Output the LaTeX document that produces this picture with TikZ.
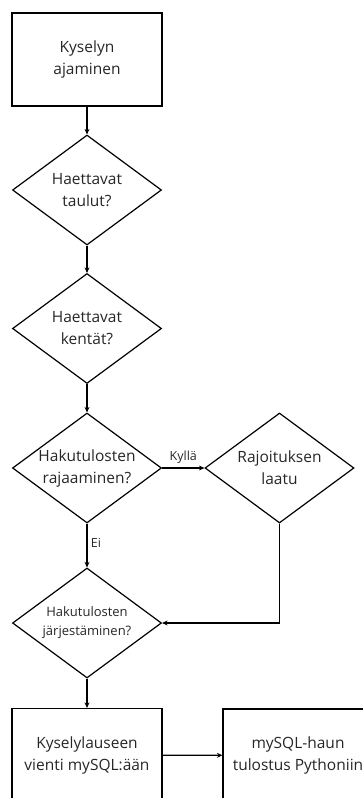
\documentclass[tikz,border=0pt]{standalone}
\usepackage{fontspec}
\setmainfont{Open Sans}
\usetikzlibrary{shapes.geometric,arrows.meta}
\definecolor{txt}{RGB}{38,38,38}
\begin{document}
\begin{tikzpicture}[x=1pt,y=-1pt,
  every node/.style={text=txt,font=\fontsize{15.5}{22}\selectfont,align=center},
  boxnode/.style={draw=black,line width=1.2pt,rectangle,minimum width=150pt,minimum height=93pt,inner sep=0pt},
  decision/.style={draw=black,line width=1.2pt,diamond,aspect=1.36,minimum width=149pt,minimum height=110pt,inner sep=0pt},
  conn/.style={draw=black,line width=1.2pt,-{Stealth[length=5.5pt,width=5pt]}},
  lbl/.style={font=\fontsize{12.5}{14}\selectfont}]
\useasboundingbox (0,0) rectangle (363,798);
\begin{scope}
\clip (0,0) rectangle (363,798);
\node[boxnode] (b1) at (87,59.5) {Kyselyn\\ajaminen};
\node[decision] (d1) at (87,190) {Haettavat\\taulut?};
\node[decision] (d2) at (87,328.5) {Haettavat\\kentät?};
\node[decision] (d3) at (87,468) {Hakutulosten\\rajaaminen?};
\node[decision] (d4) at (279.5,468) {Rajoituksen\\laatu};
\node[decision,font=\fontsize{13}{19}\selectfont] (d5) at (87,623) {Hakutulosten\\järjestäminen?};
\node[boxnode] (b2) at (87,755) {Kyselylauseen\\vienti mySQL:ään};
\node[boxnode] (b3) at (298,755.5) {mySQL-haun\\tulostus Pythoniin};
\draw[conn] (b1) -- (d1);
\draw[conn] (d1) -- (d2);
\draw[conn] (d2) -- (d3);
\draw[conn] (d3) -- node[lbl,above,pos=0.5,yshift=1pt] {Kyllä} (d4);
\draw[conn] (d3) -- node[lbl,right,pos=0.45] {Ei} (d5);
\draw[conn] (d4.south) |- (d5.east);
\draw[conn] (d5) -- (b2);
\draw[conn] (b2) -- (b3);
\end{scope}
\end{tikzpicture}
\end{document}
